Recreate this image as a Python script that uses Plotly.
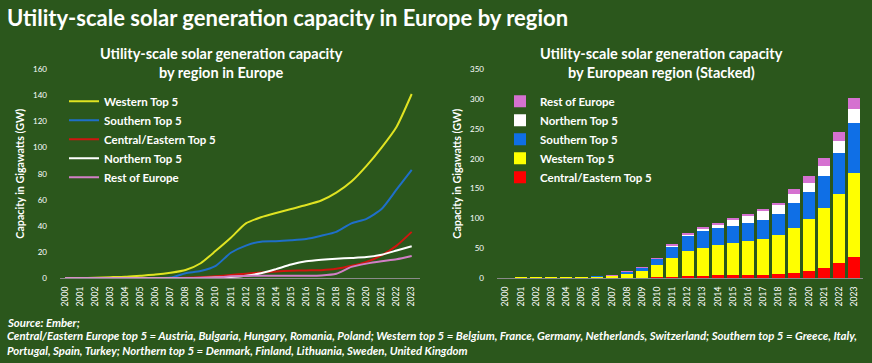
import plotly.graph_objects as go

years = list(range(2000, 2024))
western = [0.1, 0.2, 0.4, 0.8, 1.2, 2.0, 2.8, 4.2, 6.3, 11.5, 21, 31, 42, 46.7, 50, 53, 56, 59.5, 65.5, 74, 86, 100, 116, 141]
southern = [0, 0, 0, 0, 0, 0, 0.1, 0.5, 3.8, 5.5, 9.5, 19.5, 25, 28, 28.3, 29, 30, 32.5, 35.5, 42, 45.5, 53, 68, 83]
central = [0, 0, 0, 0, 0, 0, 0, 0.1, 0.3, 0.8, 1.5, 2.5, 3.5, 4.5, 5.2, 5.7, 6, 6.2, 7.2, 9.5, 12.5, 17.5, 25, 35.5]
northern = [0, 0, 0, 0, 0, 0, 0, 0, 0.1, 0.2, 0.5, 1, 2, 3.8, 7, 10.5, 13, 14.2, 15, 15.5, 16.2, 18, 21.2, 24.5]
rest = [0, 0, 0, 0, 0, 0, 0, 0.1, 0.2, 0.3, 0.5, 1.5, 1.8, 2, 2, 2, 2, 2.2, 3.5, 8.7, 11.2, 13, 14.5, 17]

W, H = 872, 363
BG = "#2b571c"
FONT = "Lato"

def px(x):
    return x / W

def py(y):
    return (H - y) / H

fig = go.Figure()

line_series = [
    ("Western Top 5", western, "#dfe322"),
    ("Southern Top 5", southern, "#1f6fc8"),
    ("Central/Eastern Top 5", central, "#d0150f"),
    ("Northern Top 5", northern, "#ffffff"),
    ("Rest of Europe", rest, "#d27fc6"),
]
for i, (name, vals, col) in enumerate(line_series):
    fig.add_trace(go.Scatter(
        x=years, y=vals, name=name, mode="lines",
        line=dict(color=col, width=2, shape="spline", smoothing=0.6),
        xaxis="x", yaxis="y", legend="legend", legendgroup="l%d" % i, legendrank=i + 1,
    ))

bar_series = [
    ("Central/Eastern Top 5", central, "#ff0000"),
    ("Western Top 5", western, "#ffff00"),
    ("Southern Top 5", southern, "#0f6fe6"),
    ("Northern Top 5", northern, "#ffffff"),
    ("Rest of Europe", rest, "#d571d0"),
]
for i, (name, vals, col) in enumerate(bar_series):
    fig.add_trace(go.Bar(
        x=years, y=vals, name=name, marker=dict(color=col, line=dict(width=0)),
        xaxis="x2", yaxis="y2", legend="legend2", legendgroup="b%d" % i, legendrank=10 - i,
    ))

tick_font = dict(family=FONT, size=8.5, color="white")
ytick_font = dict(family=FONT, size=8, color="white")
title_font = dict(family=FONT, size=10.7, color="white", weight="bold")

common_x = dict(tickmode="array", tickvals=years, ticktext=[str(y) for y in years],
                tickangle=-90, tickfont=tick_font, showgrid=False, zeroline=False,
                showline=True, linecolor="#8a8a8a", linewidth=1, ticks="", ticklabelstandoff=4)
common_y = dict(showgrid=False, zeroline=False, showline=False, ticks="",
                tickfont=ytick_font, ticklabelstandoff=12,
                title=dict(text="Capacity in Gigawatts (GW)", font=title_font, standoff=6))

legend_font = dict(family=FONT, size=11.5, color="white", weight="bold")

fig.update_layout(
    width=W, height=H, autosize=False,
    margin=dict(l=0, r=0, t=0, b=0),
    paper_bgcolor=BG, plot_bgcolor=BG,
    font=dict(family=FONT, color="white"),
    barmode="stack", bargap=0.2,
    showlegend=True,
    hovermode=False,
    xaxis=dict(domain=[px(60), px(420)], range=[1999.67, 2023.55], anchor="y", **common_x),
    yaxis=dict(domain=[py(281), py(66)], range=[0, 160], tickvals=list(range(0, 161, 20)), anchor="x", **common_y),
    xaxis2=dict(domain=[px(497), px(863)], range=[1999.43, 2023.57], anchor="y2", **common_x),
    yaxis2=dict(domain=[py(281), py(66)], range=[0, 350], tickvals=list(range(0, 351, 50)), anchor="x2", **common_y),
    legend=dict(x=px(64), y=py(84), xanchor="left", yanchor="top", bgcolor="rgba(0,0,0,0)",
                font=legend_font, tracegroupgap=0, itemwidth=30, traceorder="grouped"),
    legend2=dict(x=px(500), y=py(84), xanchor="left", yanchor="top", bgcolor="rgba(0,0,0,0)",
                 font=legend_font, tracegroupgap=0, itemwidth=30, traceorder="grouped"),
)

ann = []
ann.append(dict(text="<b>Utility-scale solar generation capacity in Europe by region</b>",
                x=px(5), y=py(13), xanchor="left", yanchor="middle", showarrow=False,
                font=dict(family=FONT, size=22, color="white")))
for cx, l1, l2 in [(221, "Utility-scale solar generation capacity", "by region in Europe"),
                   (661, "Utility-scale solar generation capacity", "by European region (Stacked)")]:
    ann.append(dict(text="<b>%s</b>" % l1, x=px(cx), y=py(50), xanchor="center", yanchor="middle",
                    showarrow=False, font=dict(family=FONT, size=14.5, color="white")))
    ann.append(dict(text="<b>%s</b>" % l2, x=px(cx), y=py(69), xanchor="center", yanchor="middle",
                    showarrow=False, font=dict(family=FONT, size=14.5, color="white")))
foot = [
    (326, "Source: Ember;"),
    (340, "Central/Eastern Europe top 5 = Austria, Bulgaria, Hungary, Romania, Poland; Western top 5 = Belgium, France, Germany, Netherlands, Switzerland; Southern top 5 = Greece, Italy,"),
    (355, "Portugal, Spain, Turkey; Northern top 5 = Denmark, Finland, Lithuania, Sweden, United Kingdom"),
]
for yy, t in foot:
    ann.append(dict(text="<b><i>%s</i></b>" % t, x=px(5), y=py(yy), xanchor="left", yanchor="middle",
                    showarrow=False, font=dict(family=FONT, size=11.4, color="white")))
for a in ann:
    a["xref"] = "paper"
    a["yref"] = "paper"
fig.update_layout(annotations=ann)

fig.write_html("out.html", config={"displayModeBar": False},
               post_script="document.body.style.margin='0';document.body.style.background='%s';" % BG)
